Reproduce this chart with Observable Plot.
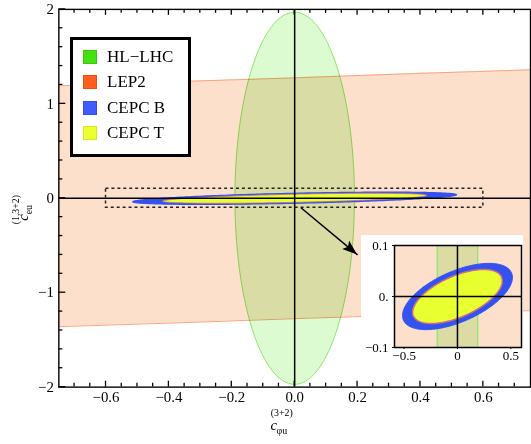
<!DOCTYPE html>
<html><head><meta charset="utf-8">
<script src="https://cdn.jsdelivr.net/npm/d3@7"></script>
<script src="https://cdn.jsdelivr.net/npm/@observablehq/plot@0.6"></script>
<style>
html,body{margin:0;padding:0;background:#fff;overflow:hidden;}
#wrap{position:relative;width:531px;height:444px;overflow:hidden;}
#main{position:absolute;left:0;top:0;}
#inset{position:absolute;left:361px;top:235px;}
#legend{position:absolute;left:70px;top:37px;width:115px;height:114px;border:3px solid #000;background:#fff;font-family:"Liberation Serif",serif;font-size:17px;color:#000;}
.row{position:absolute;left:10px;height:20px;display:flex;align-items:center;white-space:nowrap;}
.sw{width:14px;height:14px;margin-right:10px;box-sizing:border-box;border:1px solid;}
</style>
</head><body>
<div id="wrap"><div id="main"></div><div id="inset"></div><div id="legend"></div></div>
<script>
// ---- data ----
const legendNames = ["HL\u2212LHC", "LEP2", "CEPC B", "CEPC T"];
const legendColors = ["#45e012", "#ff5e1e", "#3e5cff", "#ecff30"];
const legendBorders = ["#3cc80e", "#e85010", "#3050e0", "#d6e820"];

// LEP2 band edges
const lepX = [-0.75, -0.375, 0, 0.375, 0.75];
const lepUpper = [1.19, 1.235, 1.275, 1.32, 1.36];
const lepLower = [-1.36, -1.32, -1.275, -1.235, -1.19];

// ellipses: HL-LHC, CEPC B, CEPC T (x half-extent, y half-extent, phase between x and y)
const ellNames = ["HL-LHC", "CEPC B", "CEPC T"];
const ellRx = [0.19, 0.515, 0.42];
const ellRy = [1.97, 0.065, 0.053];
const ellPhase = [1.5708, 0.96, 0.95];

// zoom box and arrow
const zoomBoxX = [-0.6, 0.6];
const zoomBoxY = [-0.1, 0.1];
const arrowFrom = [0.02, -0.1];
const arrowTo = [0.2, -0.6];

// ticks
const xMajor = [-0.6, -0.4, -0.2, 0, 0.2, 0.4, 0.6];
const xLabels = ["\u22120.6", "\u22120.4", "\u22120.2", "0.0", "0.2", "0.4", "0.6"];
const xMinor = [-0.7,-0.65,-0.55,-0.5,-0.45,-0.35,-0.3,-0.25,-0.15,-0.1,-0.05,0.05,0.1,0.15,0.25,0.3,0.35,0.45,0.5,0.55,0.65,0.7];
const yMajor = [-2, -1, 0, 1, 2];
const yLabels = ["\u22122", "\u22121", "0", "1", "2"];
const yMinor = [-1.8,-1.6,-1.4,-1.2,-0.8,-0.6,-0.4,-0.2,0.2,0.4,0.6,0.8,1.2,1.4,1.6,1.8];
const insetXTicks = [-0.5, 0, 0.5];
const insetXLabels = ["\u22120.5", "0", "0.5"];
const insetYTicks = [-0.1, 0, 0.1];
const insetYLabels = ["\u22120.1", "0.", "0.1"];

// ---- build ----
const band = lepX.map((x, i) => ({x, y1: lepLower[i], y2: lepUpper[i]}));
function ellipse(i) {
  const n = 240, pts = [];
  for (let k = 0; k < n; k++) {
    const t = 2 * Math.PI * k / n;
    pts.push({x: ellRx[i] * Math.cos(t), y: ellRy[i] * Math.cos(t + ellPhase[i])});
  }
  return pts;
}
const hl = ellipse(0), cb = ellipse(1), ct = ellipse(2);
const box = [{x1: zoomBoxX[0], x2: zoomBoxX[1], y1: zoomBoxY[0], y2: zoomBoxY[1]}];
const arrow = [{x1: arrowFrom[0], y1: arrowFrom[1], x2: arrowTo[0], y2: arrowTo[1]}];

const BAND_FILL = "#fde0cc", BAND_STROKE = "#f8a47c";
const HL_FILL = "#dcfbd0", HL_STROKE = "#88e864", OVERLAP_FILL = "#dcdba3";
const B_FILL = "#3452f0", T_FILL = "#e8ff30", T_STROKE = "#cc6c8c";
const XD = [-0.75, 0.75], YD = [-2, 2];

const main = Plot.plot({
  width: 537, height: 444,
  marginLeft: 59, marginRight: 1, marginTop: 9, marginBottom: 53,
  style: {fontFamily: "Liberation Serif, serif", fontSize: "15px", color: "black", background: "white"},
  x: {domain: XD},
  y: {domain: YD},
  marks: [
    Plot.areaY(band, {x: "x", y1: "y1", y2: "y2", fill: BAND_FILL}),
    Plot.line(band, {x: "x", y: "y1", stroke: BAND_STROKE, strokeWidth: 1}),
    Plot.line(band, {x: "x", y: "y2", stroke: BAND_STROKE, strokeWidth: 1}),
    Plot.line(hl, {x: "x", y: "y", curve: "linear-closed", fill: HL_FILL, stroke: HL_STROKE, strokeWidth: 1, mixBlendMode: "multiply"}),
    Plot.line(cb, {x: "x", y: "y", curve: "linear-closed", fill: B_FILL, stroke: B_FILL, strokeWidth: 1.2}),
    Plot.line(ct, {x: "x", y: "y", curve: "linear-closed", fill: T_FILL, stroke: T_STROKE, strokeWidth: 0.8}),
    Plot.ruleY([0], {stroke: "black", strokeWidth: 1.5}),
    Plot.ruleX([0], {stroke: "black", strokeWidth: 1.5}),
    Plot.rect(box, {x1: "x1", x2: "x2", y1: "y1", y2: "y2", fill: "none", stroke: "#222", strokeWidth: 1.5, strokeDasharray: "3,3"}),
    Plot.link(arrow, {x1: "x1", y1: "y1", x2: "x2", y2: "y2", stroke: "black", strokeWidth: 1.5}),
    Plot.frame({stroke: "black", strokeWidth: 1.4}),
    Plot.axisX({anchor: "bottom", ticks: xMajor, tickSize: 0, tickPadding: 4, tickFormat: d => xLabels[xMajor.indexOf(d)], label: null}),
    Plot.axisY({anchor: "left", ticks: yMajor, tickSize: 0, tickPadding: 5, tickFormat: d => yLabels[yMajor.indexOf(d)], label: null})
  ]
});
document.getElementById("main").appendChild(main);

const sx = main.scale("x"), sy = main.scale("y");
const svgSel = d3.select(main);

// inward ticks placed with the plot's own scales
{
  const g = svgSel.append("g");
  const yb = sy.apply(YD[0]), yt = sy.apply(YD[1]), xl = sx.apply(XD[0]);
  const seg = d => g.append("path").attr("d", d).attr("stroke", "#000").attr("stroke-width", 1.3).attr("fill", "none");
  const addX = (vals, len) => vals.forEach(v => {
    const x = sx.apply(v);
    seg(`M${x},${yb}V${yb - len}`);
    seg(`M${x},${yt}V${yt + len}`);
  });
  const addY = (vals, len) => vals.forEach(v => {
    const y = sy.apply(v);
    seg(`M${xl},${y}H${xl + len}`);
  });
  addX(xMajor, 6); addX(xMinor, 4);
  addY(yMajor, 7); addY(yMinor, 4);
}

// arrowhead via the plot's scales
{
  const x0 = sx.apply(arrowFrom[0]), y0 = sy.apply(arrowFrom[1]);
  const x1 = sx.apply(arrowTo[0]), y1 = sy.apply(arrowTo[1]);
  const L = Math.hypot(x1 - x0, y1 - y0), ux = (x1 - x0) / L, uy = (y1 - y0) / L;
  const px = -uy, py = ux, len = 15, hw = 5.5, notch = 12;
  const p = [[x1, y1], [x1 - ux * len + px * hw, y1 - uy * len + py * hw], [x1 - ux * notch, y1 - uy * notch], [x1 - ux * len - px * hw, y1 - uy * len - py * hw]];
  svgSel.append("path").attr("d", "M" + p.map(q => q.join(",")).join("L") + "Z").attr("fill", "black");
}

// axis labels
{
  const g = svgSel.append("g").attr("font-family", "Liberation Serif, serif").attr("fill", "black");
  g.append("text").attr("x", 277).attr("y", 435).attr("font-size", 15).attr("font-style", "italic").text("c");
  g.append("text").attr("x", 285).attr("y", 439).attr("font-size", 10).text("\u03C6u");
  g.append("text").attr("x", 285).attr("y", 421).attr("font-size", 10).text("(3+2)");
  const gy = svgSel.append("g").attr("transform", "translate(28,200) rotate(-90)").attr("font-family", "Liberation Serif, serif").attr("fill", "black");
  gy.append("text").attr("x", -20).attr("y", 0).attr("font-size", 15).attr("font-style", "italic").text("c");
  gy.append("text").attr("x", -12).attr("y", 4).attr("font-size", 10).text("eu");
  gy.append("text").attr("x", -12).attr("y", -9).attr("font-size", 10).text("(1,3+2)");
}

// inset (whole interior lies inside the LEP2 band, so the HL-LHC strip shows the overlap colour)
const inset = Plot.plot({
  width: 162, height: 130,
  marginLeft: 33, marginRight: 2, marginTop: 10, marginBottom: 18,
  style: {fontFamily: "Liberation Serif, serif", fontSize: "13px", color: "black", background: "white"},
  x: {domain: [-0.59, 0.6]},
  y: {domain: [-0.1, 0.1]},
  marks: [
    Plot.areaY(band, {x: "x", y1: "y1", y2: "y2", fill: BAND_FILL, clip: true}),
    Plot.line(hl, {x: "x", y: "y", curve: "linear-closed", fill: OVERLAP_FILL, stroke: HL_STROKE, strokeWidth: 1.2, clip: true}),
    Plot.line(cb, {x: "x", y: "y", curve: "linear-closed", fill: B_FILL, stroke: B_FILL, strokeWidth: 1}),
    Plot.line(ct, {x: "x", y: "y", curve: "linear-closed", fill: T_FILL, stroke: T_STROKE, strokeWidth: 1.5}),
    Plot.ruleY([0], {stroke: "black", strokeWidth: 1.5}),
    Plot.ruleX([0], {stroke: "black", strokeWidth: 1.5}),
    Plot.frame({stroke: "black", strokeWidth: 1.5}),
    Plot.axisX({anchor: "bottom", ticks: insetXTicks, tickSize: 2, tickPadding: 1, tickFormat: d => insetXLabels[insetXTicks.indexOf(d)], label: null}),
    Plot.axisY({anchor: "left", ticks: insetYTicks, tickSize: 2, tickPadding: 4, tickFormat: d => insetYLabels[insetYTicks.indexOf(d)], label: null})
  ]
});
document.getElementById("inset").appendChild(inset);

// legend
{
  const lg = document.getElementById("legend");
  const tops = [7, 32, 58, 83];
  legendNames.forEach((n, i) => {
    const r = document.createElement("div");
    r.className = "row"; r.style.top = tops[i] + "px";
    const s = document.createElement("div");
    s.className = "sw"; s.style.background = legendColors[i]; s.style.borderColor = legendBorders[i];
    r.appendChild(s);
    const t = document.createElement("span"); t.textContent = n;
    r.appendChild(t);
    lg.appendChild(r);
  });
}
</script>
</body></html>
